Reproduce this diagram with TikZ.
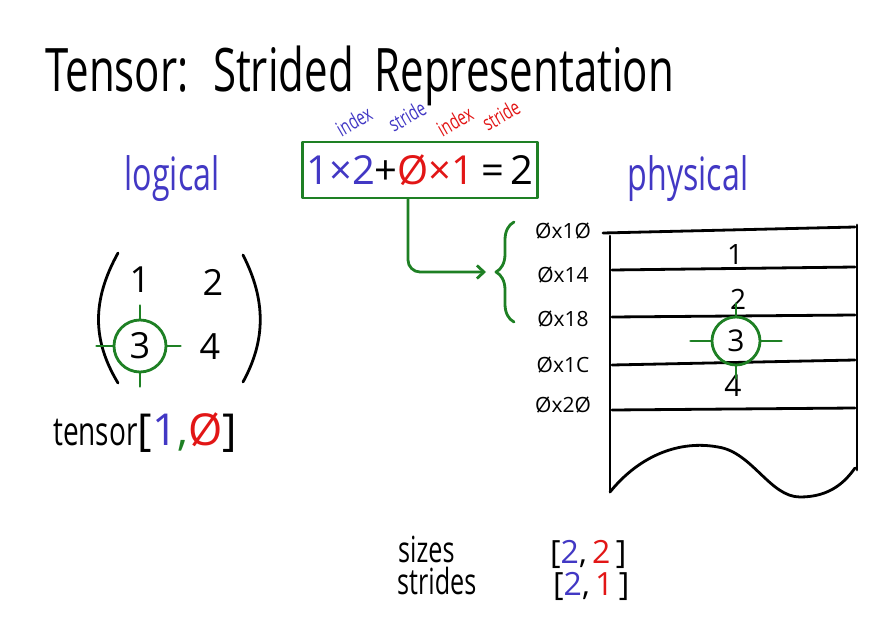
\documentclass[tikz,border=0pt]{standalone}
\usepackage{fontspec}
\setmainfont{Open Sans}
\newfontfamily\handfont{Open Sans}[FakeStretch=0.7]
\usetikzlibrary{positioning,decorations.pathreplacing,arrows.meta}
\definecolor{penblue}{RGB}{66,56,196}
\definecolor{penred}{RGB}{226,22,22}
\definecolor{pengreen}{RGB}{30,128,36}
\tikzset{
  pen/.style={
    line width = 2.8pt,
    line cap = round,
    line join = round
  },
  hand/.style={
    inner sep = 0pt,
    font = \handfont\fontsize{#1}{#1}\selectfont
  },
  num/.style={
    inner sep = 0pt,
    font = \fontsize{#1}{#1}\selectfont
  },
  pick/.style={
    shape = circle,
    draw = pengreen,
    pen,
    inner sep = 0pt,
    minimum size = #1
  },
  tag/.style={
    hand = 21,
    rotate = 30
  },
  addr/.style={
    num = 21
  }
}

\begin{document}
\begin{tikzpicture}[x={(1pt,0)}, y={(0,-1pt)}]
    \useasboundingbox (0,0) rectangle (881,623);
    \def\tk{13}
    % title
    \node[hand=60, anchor=base west] (title) at (45,92) {Tensor:\, Strided\, Representation};
    \node[hand=46, anchor=base, penblue] (logical) at (172,190) {logical};
    \node[hand=46, anchor=base, penblue] (physical) at (688,190) {physical};
    % offset computation
    \node[pen, draw=pengreen, minimum width=235, minimum height=56, num=40] (eq) at (420,170)
        {\textcolor{penblue}{1×2}+\textcolor{penred}{Ø×1}\,=\,2};
    \node[tag, penblue] (idx1) at (354,121) {index};
    \node[tag, penblue] (str1) at (407,116) {stride};
    \node[tag, penred] (idx2) at (455,121) {index};
    \node[tag, penred] (str2) at (501,115) {stride};
    % logical view
    \draw[pen] (118,253) .. controls (92,300) and (92,340) .. (118,383);
    \draw[pen] (243,255) .. controls (266,300) and (266,340) .. (243,382);
    \node[num=36] (m1) at (140,280) {1};
    \node[num=36] (m2) at (213,282) {2};
    \node[num=36, pick=52] (m3) at (140,346) {3};
    \node[num=36] (m4) at (210,347) {4};
    \foreach \a/\dx/\dy in {north/0/-\tk, south/0/\tk, west/-16/0, east/\tk/0}{
        \draw[pen, pengreen] (m3.\a) -- ++(\dx,\dy);
    }
    \node[anchor=base west, inner sep=0pt] (index) at (53,445)
        {{\handfont\fontsize{40}{40}\selectfont tensor}\fontsize{44}{44}\selectfont
         [\textcolor{penblue}{1}\textcolor{pengreen}{,}\textcolor{penred}{Ø}]};
    % physical view
    \draw[pen] (603,233) -- (855,227);
    \draw[pen] (610,236) -- (610,492);
    \draw[pen] (857,225) -- (857,470);
    \foreach \yl/\yr in {270/267, 317/315, 365/360, 410/408}{
        \draw[pen] (612,\yl) -- (855,\yr);
    }
    \draw[pen] (610,492) .. controls (640,455) and (680,440) .. (718,447)
        .. controls (752,452) and (770,497) .. (800,497)
        .. controls (830,497) and (845,482) .. (855,468);
    \foreach \v/\y [count=\i] in {Øx1Ø/231, Øx14/275, Øx18/319, Øx1C/365, Øx2Ø/405}{
        \node[addr] (a\i) at (563,\y) {\v};
    }
    \node[num=28] (t1) at (735,255) {1};
    \node[num=28] (t2) at (738,299) {2};
    \node[num=30, pick=48] (t3) at (736,341) {3};
    \node[num=30] (t4) at (733,386) {4};
    \foreach \a/\dx/\dy in {north/0/-12, south/0/12, west/-20/0, east/20/0}{
        \draw[pen, pengreen] (t3.\a) -- ++(\dx,\dy);
    }
    % brace and arrow
    \coordinate (btop) at (514,222);
    \coordinate (bbot) at (514,322);
    \draw[pen, pengreen, decorate, decoration={brace, amplitude=18pt}] (bbot) -- (btop);
    \coordinate (tip) at (486,272);
    \draw[pen, pengreen, rounded corners=12pt, -{Straight Barb[length=7pt,width=13pt]}]
        ([xshift=-12pt]eq.south) |- (tip);
    % sizes and strides
    \node[hand=36, anchor=base west] (sizes) at (398,562) {sizes};
    \node[hand=36, anchor=base west] (strides) at (397,594) {strides};
    \node[num=32, anchor=base west] (sz) at (550,563)
        {[\textcolor{penblue}{2},\,\textcolor{penred}{2}\,]};
    \node[num=32, anchor=base west] (st) at (553,595)
        {[\textcolor{penblue}{2},\,\textcolor{penred}{1}\,]};
\end{tikzpicture}
\end{document}
